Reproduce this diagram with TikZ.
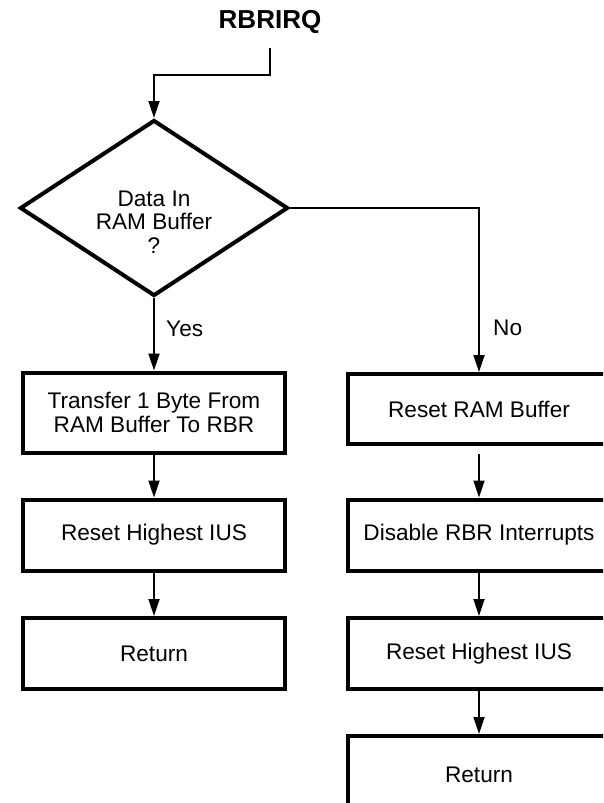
\documentclass[tikz,border=0pt]{standalone}
\usepackage{fontspec}
\setmainfont{Liberation Sans}
\usetikzlibrary{shapes.geometric,arrows.meta,positioning}

\begin{document}
\begin{tikzpicture}[x=1pt,y=-1pt,
    box/.style={draw, line width=4pt, minimum width=262pt, align=center,
                font=\fontsize{22.6}{23.4}\selectfont, inner sep=0pt},
    decision/.style={draw, diamond, line width=4pt, minimum width=268pt,
                minimum height=176pt, inner sep=0pt},
    flow/.style={line width=1.8pt, -{Triangle[length=17pt,width=11pt]}},
    lbl/.style={font=\fontsize{22.6}{23.4}\selectfont}]
    \useasboundingbox (0,0) rectangle (603,803);
    \clip (0,0) rectangle (603,803);

    % entry point
    \node[font=\fontsize{26}{28}\selectfont\bfseries] (entry) at (270,22) {RBRIRQ};
    \coordinate (entryline) at (270,48);

    % the test
    \node[decision] (test) at (154,208) {};
    \node[lbl, align=center] (testtext) at (154,222) {Data In\\RAM Buffer\\?};

    % yes branch
    \node[box, minimum height=80pt] (copy) at (154,412.5)
         {Transfer 1 Byte From\\RAM Buffer To RBR};
    \node[box, minimum height=71pt] (iusyes) at (154,535) {Reset Highest IUS};
    \node[box, minimum height=71pt] (retyes) at (154,653.5) {Return};

    % no branch
    \node[box, minimum height=70pt] (clear) at (479,409) {Reset RAM Buffer};
    \node[box, minimum height=71pt] (disable) at (479,535) {Disable RBR Interrupts};
    \node[box, minimum height=71pt] (iusno) at (479,653.5) {Reset Highest IUS};
    \node[box, minimum height=78pt] (retno) at (479,775) {Return};

    % connectors
    \draw[flow] (entryline) -- ++(0,27) -| (test.north);
    \draw[flow] (test.south) -- node[lbl, pos=0.42, right=8pt] (yes) {Yes} (copy.north);
    \draw[flow] (test.east) -| node[lbl, pos=0.865, right=10pt] (no) {No} (clear.north);

    \draw[flow] (copy.south) -- (iusyes.north);
    \draw[flow] (iusyes.south) -- (retyes.north);

    \draw[flow, shorten <=8pt] (clear.south) -- (disable.north);
    \draw[flow] (disable.south) -- (iusno.north);
    \draw[flow] (iusno.south) -- (retno.north);
\end{tikzpicture}
\end{document}
